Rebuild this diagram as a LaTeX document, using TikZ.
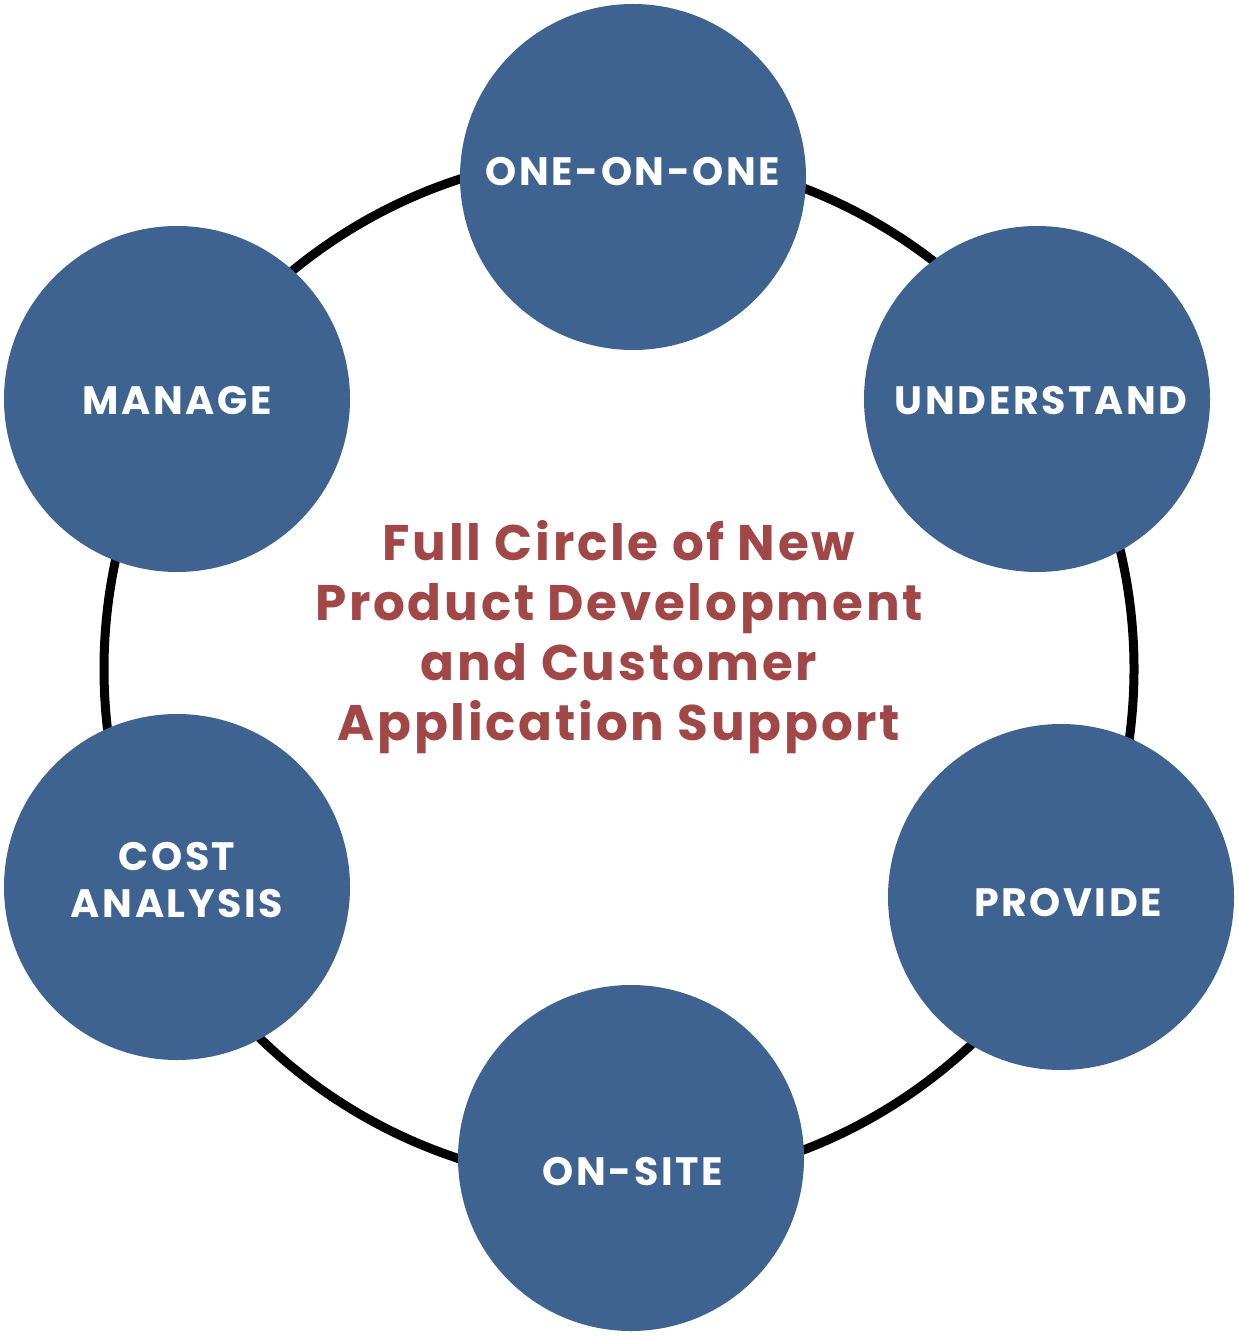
\documentclass[tikz,border=0pt]{standalone}
\usepackage{fontspec}
\setmainfont{Poppins}[UprightFont=* Bold,LetterSpace=5.5]
\newfontfamily\nodefont{Poppins}[UprightFont=* Bold,LetterSpace=6.5]
\definecolor{nodeblue}{HTML}{3F6391}
\definecolor{titlered}{HTML}{A14747}
\begin{document}
\begin{tikzpicture}[x=0.5pt,y=-0.5pt,
  bubble/.style={circle,fill=nodeblue,minimum size=173pt,inner sep=0pt},
  lbl/.style={text=white,font=\nodefont\fontsize{19.8}{23.5}\selectfont,align=center},
  ring/.style={line width=4.5pt,black}]
\useasboundingbox (0,0) rectangle (1238,1336);
\coordinate (c) at (619,669);
\draw[ring] (c) circle[radius=257.5pt];
\node[bubble] (one) at (633,177) {};
\node[bubble] (und) at (1037,399) {};
\node[bubble] (man) at (177,399) {};
\node[bubble] (cost) at (177,887) {};
\node[bubble] (prov) at (1061,897) {};
\node[bubble] (site) at (631,1158) {};
\node[lbl] (tone) at (633,172) {ONE-ON-ONE};
\node[lbl] (tund) at (1041,401) {UNDERSTAND};
\node[lbl] (tman) at (177,401) {MANAGE};
\node[lbl] (tcost) at (177,880) {COST\\ANALYSIS};
\node[lbl] (tprov) at (1068,903) {PROVIDE};
\node[lbl] (tsite) at (633,1172) {ON-SITE};
\node[text=titlered,font=\fontsize{25}{30}\selectfont,align=center] (title) at (619,637)
  {Full Circle of New\\Product Development\\and Customer\\Application Support};
\end{tikzpicture}
\end{document}
